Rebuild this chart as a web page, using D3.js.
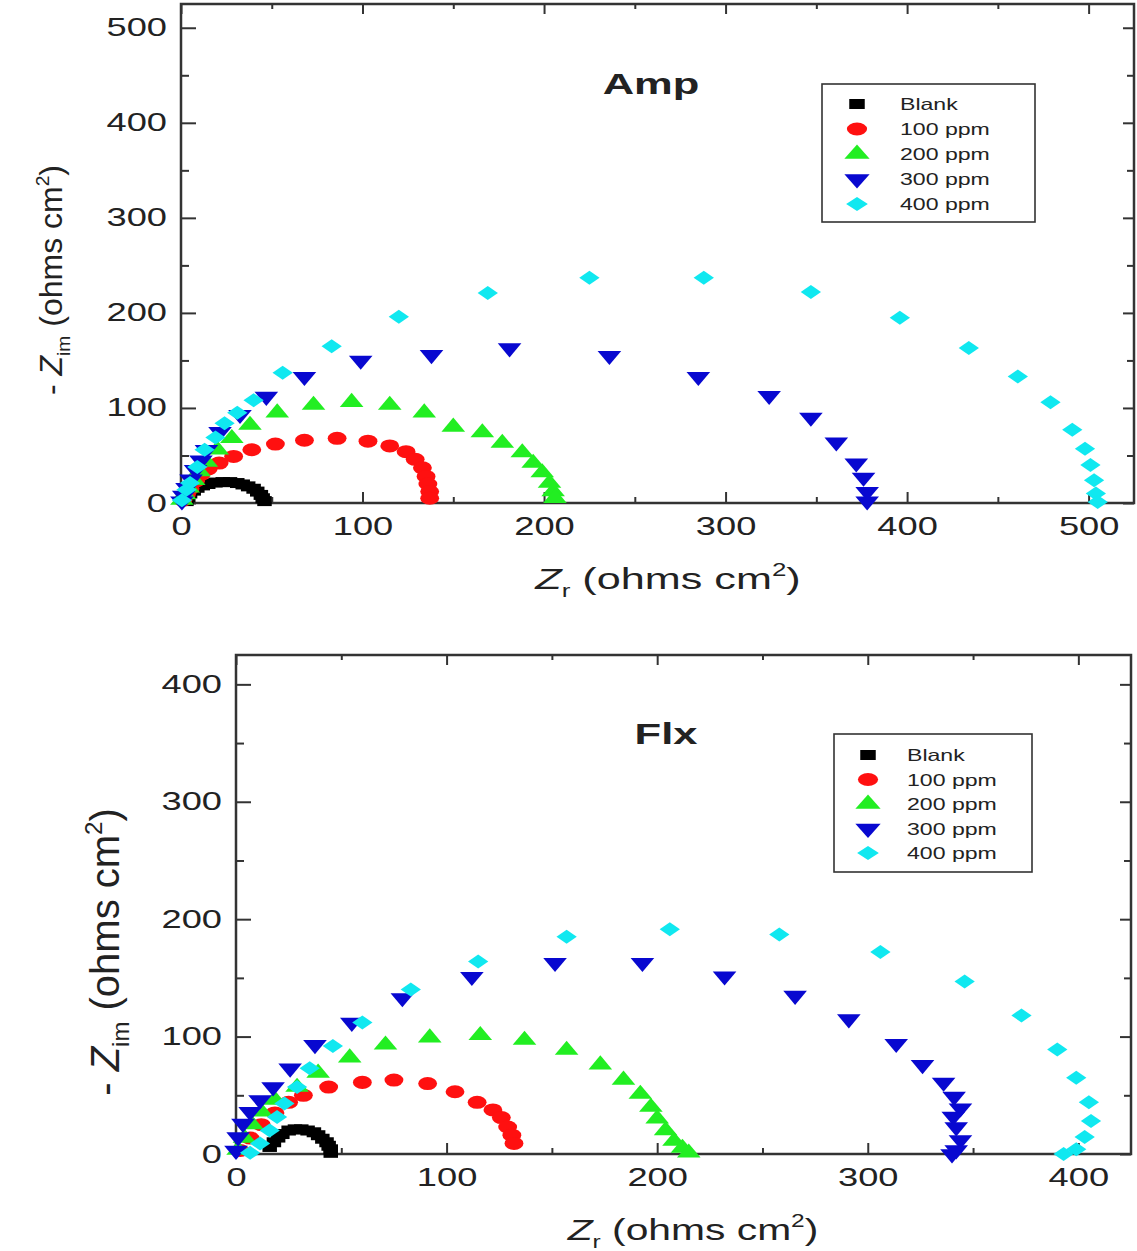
<!DOCTYPE html>
<html>
<head>
<meta charset="utf-8">
<script src="https://cdn.jsdelivr.net/npm/d3@7"></script>
<style>
  body { margin: 0; background: #fff; }
  svg { display: block; }
  text { font-family: "Liberation Sans", Arial, Helvetica, sans-serif; fill: #222; }
</style>
</head>
<body>
<svg id="chart" width="1137" height="1251"></svg>
<script>
// ---- Nyquist data: [Zr, -Zim] in ohms cm^2 ----
const seriesNames  = ["Blank", "100 ppm", "200 ppm", "300 ppm", "400 ppm"];
const seriesColors = ["#000000", "#ff1010", "#22ee22", "#0808d0", "#10e8f0"];
const seriesShapes = ["square", "circle", "triangle", "triangleDown", "diamond"];

// Amp
const ampBlank = [[3,2],[4,6],[5,10],[7,13],[9,16],[12,18.5],[15,20],[19,21.5],[23,22],[27,22],[31,21],[34,19.5],[37,17.5],[40,15],[42,12],[44,8.5],[45,5],[46,2]];
const amp100 = [[1,3],[3,9],[5,15],[8,23],[11,30],[15,36],[21,42],[29,49],[39,56],[52,62],[68,66],[86,68],[103,65],[115,60],[124,54],[129,46],[133,37],[135,28],[136,20],[137,12],[137,5]];
const amp200 = [[0.5,3],[2,9],[4,16],[7,24],[10,33],[14,43],[20,56],[28,68],[38,82],[53,95],[73,103],[94,106],[115,103],[134,95],[150,80],[166,74],[177,63],[188,53],[194,42],[199,32],[203,21],[205,12],[206,5]];
const amp300 = [[0.5,2],[1.5,8],[3.3,16],[5.5,25],[8,35],[11,45],[14,56],[21.5,75],[32.5,93],[47,112],[68,133],[99,150],[138,156],[181,163],[236,155],[285,133],[324,113],[347,90],[361,64],[372,42],[376,27],[378,12],[378,2]];
const amp400 = [[0.5,3],[3,14],[5,21],[9,38],[13,56],[19,69],[24,84],[31,95],[40,108],[56,137],[83,165],[120,196],[169,221],[225,237],[288,237],[347,222],[396,195],[434,163],[461,133],[479,106],[491,77],[498,57],[501,40],[503,24],[504,10],[505,1]];

// Flx
const flxBlank = [[16,6],[18,10],[20,14],[22,17],[25,20],[28,21],[31,21],[34,20],[37,18.5],[39,16],[41,13],[43,10],[44,7],[45,4],[45,1]];
const flx100 = [[2,3],[6.7,13.6],[12,25],[18.5,35],[25,44],[32,50],[44,57],[60,61],[75,63],[91,60],[104,53],[114.5,44],[122,37.5],[126,31],[129,23],[131,16],[132,9]];
const flx200 = [[1,3.4],[4,13.6],[7.6,25],[12,36],[18.5,46],[29,57],[39,69],[54,82],[71,93],[92,99],[116,101],[137,97],[157,88.5],[173,76],[184,63],[192,51],[197,40],[200,30],[204,20],[208,11],[212,5],[215,1]];
const flx300 = [[0,3],[1,14.5],[3.3,26],[6.7,36],[11.4,46],[17.6,57],[25.7,73],[37.5,93],[55,112],[79,133],[112,151],[151.5,163],[193,163],[232,151.5],[265.5,135],[291,115],[313.5,94],[326,76],[336,61],[341,49],[344,39],[340.6,32],[342,23],[344,12],[342,3.4],[340,0]];
const flx400 = [[6.7,1],[11.4,9],[16,20],[19.5,31.5],[23,43],[29,57],[35,73],[46,92],[60,112],[83,140],[115,164],[157,185],[206,191.5],[258,187],[306,172],[346,147],[373,118],[390,89],[399,65],[405,44],[406,28],[403,14.5],[399,4],[393,0]];

// Axis ticks
const ampTicks = [0, 100, 200, 300, 400, 500];
const flxTicks = [0, 100, 200, 300, 400];

// ---- layout ----
const TEXT_SX = 1.45;   // horizontal stretch of labels
const MARK_SX = 1.45;   // horizontal stretch of markers

const panels = [
  {
    title: "Amp", series: [ampBlank, amp100, amp200, amp300, amp400],
    ticks: ampTicks, xMax: 525, yMax: 525,
    box: { l: 181, r: 1134, t: 4, b: 503 },
    titlePos: [651, 94],
    legend: { x: 822, y: 84, w: 213, h: 138, symX: 35, textX: 78, firstY: 20, step: 25 },
    yLabel: { x: 62, y: 280, fs: 32 },
    xLabel: { x: 668, y: 589, sx: 1.44 }
  },
  {
    title: "Flx", series: [flxBlank, flx100, flx200, flx300, flx400],
    ticks: flxTicks, xMax: 425, yMax: 425,
    box: { l: 236, r: 1131, t: 655, b: 1154 },
    titlePos: [666, 744],
    legend: { x: 834, y: 734, w: 198, h: 138, symX: 34, textX: 73, firstY: 21, step: 24.5 },
    yLabel: { x: 119, y: 952, fs: 40 },
    xLabel: { x: 693, y: 1240, sx: 1.36 }
  }
];

const svg = d3.select("#chart");

const symbolDefs = {
  square:       { type: d3.symbolSquare,   size: 100, rot: 0 },
  circle:       { type: d3.symbolCircle,   size: 133, rot: 0 },
  triangle:     { type: d3.symbolTriangle, size: 115, rot: 0 },
  triangleDown: { type: d3.symbolTriangle, size: 115, rot: 180 },
  diamond:      { type: d3.symbolSquare,   size: 98,  rot: 45 }
};

function stretchedText(g, x, y, str, opts) {
  const o = Object.assign({ fs: 25, sx: TEXT_SX, anchor: "middle", weight: "normal" }, opts || {});
  return g.append("text")
    .attr("transform", `translate(${x},${y}) scale(${o.sx},1)`)
    .attr("text-anchor", o.anchor)
    .attr("font-size", o.fs)
    .attr("font-weight", o.weight)
    .text(str);
}

panels.forEach(p => {
  const g = svg.append("g");
  const x = d3.scaleLinear().domain([0, p.xMax]).range([p.box.l, p.box.r]);
  const y = d3.scaleLinear().domain([0, p.yMax]).range([p.box.b, p.box.t]);
  const W = p.box.r - p.box.l, H = p.box.b - p.box.t;
  const minor = d3.range(50, p.xMax, 100);

  // tick marks on all four sides (pointing inward)
  const axes = [
    { ax: d3.axisBottom(x), tr: `translate(0,${p.box.b})`, major: 11, minor: 6, labels: true },
    { ax: d3.axisTop(x),    tr: `translate(0,${p.box.t})`, major: 10, minor: 5, labels: false },
    { ax: d3.axisLeft(y),   tr: `translate(${p.box.l},0)`, major: 15, minor: 8, labels: true },
    { ax: d3.axisRight(y),  tr: `translate(${p.box.r},0)`, major: 11, minor: 7, labels: false }
  ];
  axes.forEach(a => {
    const majorG = g.append("g").attr("transform", a.tr)
      .call(a.ax.tickValues(p.ticks).tickSizeInner(-a.major).tickSizeOuter(0)
        .tickPadding(a.labels ? 14 : 0).tickFormat(a.labels ? d3.format("d") : () => ""));
    majorG.select(".domain").remove();
    majorG.selectAll("line").attr("stroke", "#333").attr("stroke-width", 2);
    majorG.attr("font-size", 25).attr("font-family", null);
    majorG.selectAll("text").attr("fill", "#222");
    const minorAx = a.ax.tickValues(minor).tickSizeInner(-a.minor).tickFormat(() => "");
    const minorG = g.append("g").attr("transform", a.tr).call(minorAx);
    minorG.select(".domain").remove();
    minorG.selectAll("line").attr("stroke", "#333").attr("stroke-width", 2);
    if (a.labels) {
      majorG.selectAll("text").each(function () {
        const t = d3.select(this);
        const xv = +t.attr("x") || 0;
        t.attr("x", xv / TEXT_SX).attr("transform", `scale(${TEXT_SX},1)`);
      });
    }
  });

  // frame
  g.append("rect").attr("x", p.box.l).attr("y", p.box.t).attr("width", W).attr("height", H)
    .attr("fill", "none").attr("stroke", "#333").attr("stroke-width", 2.5);

  // markers
  p.series.forEach((pts, i) => {
    const def = symbolDefs[seriesShapes[i]];
    const path = d3.symbol().type(def.type).size(def.size)();
    g.append("g").selectAll("path").data(pts).join("path")
      .attr("d", path)
      .attr("fill", seriesColors[i])
      .attr("transform", d => `translate(${x(d[0])},${y(d[1])}) scale(${MARK_SX},1) rotate(${def.rot})`);
  });

  // title
  stretchedText(g, p.titlePos[0], p.titlePos[1], p.title, { fs: 30, weight: "bold", sx: 1.45 }).attr("fill", "#111");

  // legend
  const L = p.legend;
  const lg = g.append("g").attr("transform", `translate(${L.x},${L.y})`);
  lg.append("rect").attr("width", L.w).attr("height", L.h)
    .attr("fill", "#fff").attr("stroke", "#333").attr("stroke-width", 1.6);
  seriesNames.forEach((name, i) => {
    const cy = L.firstY + i * L.step;
    const def = symbolDefs[seriesShapes[i]];
    lg.append("path").attr("d", d3.symbol().type(def.type).size(def.size)())
      .attr("fill", seriesColors[i])
      .attr("transform", `translate(${L.symX},${cy}) scale(1.55,1) rotate(${def.rot})`);
    stretchedText(lg, L.textX, cy + 6, name, { fs: 16.5, sx: 1.4, anchor: "start" }).attr("fill", "#333");
  });

  // x axis label: Zr (ohms cm2)
  const xl = g.append("text")
    .attr("transform", `translate(${p.xLabel.x},${p.xLabel.y}) scale(${p.xLabel.sx},1)`)
    .attr("text-anchor", "middle").attr("font-size", 30);
  xl.append("tspan").attr("font-style", "italic").text("Z");
  xl.append("tspan").attr("font-size", 18).attr("dy", 8).text("r");
  xl.append("tspan").attr("dy", -8).text(" (ohms cm");
  xl.append("tspan").attr("font-size", 18).attr("dy", -13).text("2");
  xl.append("tspan").attr("dy", 13).text(")");

  // y axis label: - Zim (ohms cm2)
  const fs = p.yLabel.fs;
  const yl = g.append("text")
    .attr("transform", `translate(${p.yLabel.x},${p.yLabel.y}) rotate(-90)`)
    .attr("text-anchor", "middle").attr("font-size", fs);
  yl.append("tspan").text("- ");
  yl.append("tspan").attr("font-style", "italic").text("Z");
  yl.append("tspan").attr("font-size", fs * 0.6).attr("dy", fs * 0.25).text("im");
  yl.append("tspan").attr("dy", -fs * 0.25).text(" (ohms cm");
  yl.append("tspan").attr("font-size", fs * 0.6).attr("dy", -fs * 0.42).text("2");
  yl.append("tspan").attr("dy", fs * 0.42).text(")");
});
</script>
</body>
</html>
